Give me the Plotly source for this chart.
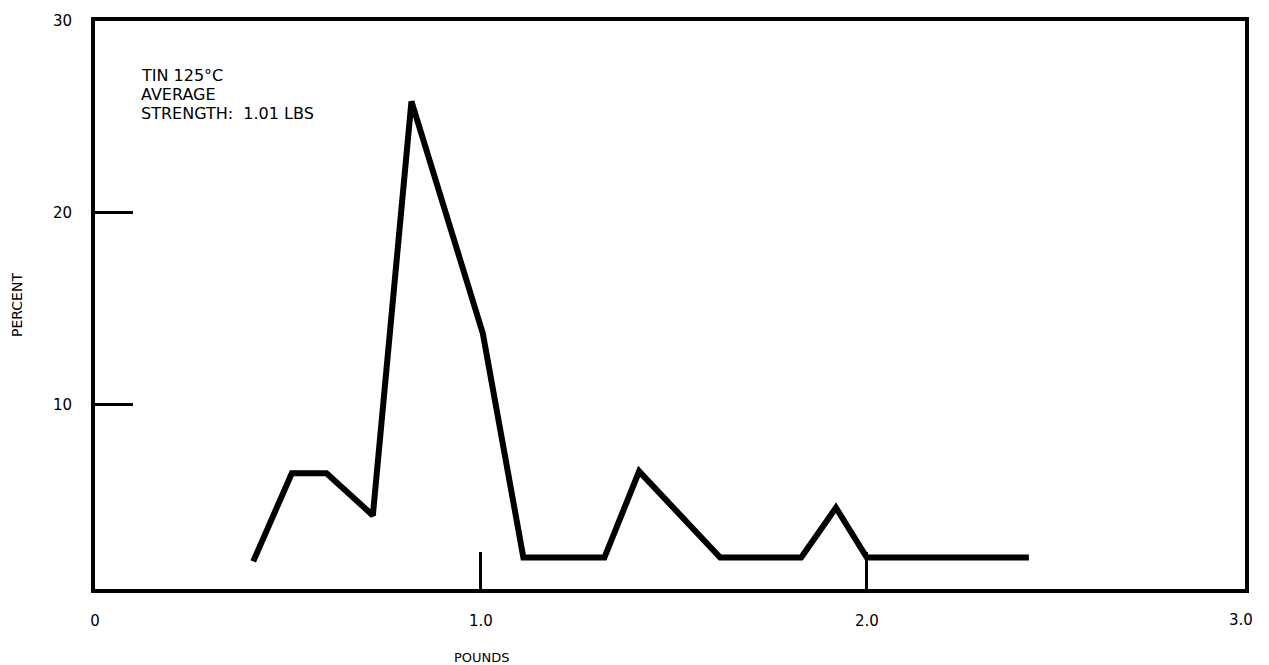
import plotly.graph_objects as go

# Strength distribution, tin at 125 C
pounds = [0.41, 0.51, 0.60, 0.72, 0.82, 1.005, 1.11, 1.32, 1.41, 1.62, 1.83, 1.92, 2.0, 2.42]
percent = [1.8, 6.4, 6.4, 4.2, 25.8, 13.7, 2.0, 2.0, 6.5, 2.0, 2.0, 4.6, 2.0, 2.0]

x_tickvals = [0, 1, 2]
x_ticktext = ["0", "1.0", "2.0"]
x_last_label = "3.0"
y_tickvals = [10, 20, 30]
y_ticktext = ["10", "20", "30"]

note_lines = ["TIN 125°C", "AVERAGE", "STRENGTH:  1.01 LBS"]
note_shifts = [-54, -73, -92]

FONT = "DejaVu Sans"

fig = go.Figure()
fig.add_trace(go.Scatter(
    x=pounds, y=percent, mode="lines",
    line=dict(color="black", width=6),
    hoverinfo="skip", showlegend=False,
))

axis_common = dict(
    showline=True, linecolor="black", linewidth=4, mirror=True,
    showgrid=False, zeroline=False,
    ticks="inside", tickcolor="black", tickwidth=3,
    tickfont=dict(family=FONT, size=15, color="black"),
)

fig.update_xaxes(
    range=[0, 2.98], tickvals=x_tickvals, ticktext=x_ticktext,
    ticklen=37, ticklabelstandoff=15, **axis_common,
)
fig.update_yaxes(
    range=[0.36, 30], tickvals=y_tickvals, ticktext=y_ticktext,
    ticklen=38, ticklabelstandoff=16, **axis_common,
)

annotations = [
    dict(text=x_last_label, xref="paper", yref="paper", x=0.9965, y=0,
         yshift=-31, xanchor="center", yanchor="middle", showarrow=False,
         font=dict(family=FONT, size=15, color="black")),
    dict(text="POUNDS", xref="paper", yref="paper", x=0.3365, y=0,
         yshift=-68, xanchor="center", yanchor="middle", showarrow=False,
         font=dict(family=FONT, size=13, color="black")),
    dict(text="PERCENT", xref="paper", yref="paper", x=0, y=0.5,
         xshift=-78, textangle=-90, xanchor="center", yanchor="middle",
         showarrow=False, font=dict(family=FONT, size=14, color="black")),
]
for line, shift in zip(note_lines, note_shifts):
    annotations.append(dict(
        text=line, xref="paper", yref="paper", x=0.039, y=1, yshift=shift,
        xanchor="left", yanchor="middle", align="left",
        borderpad=0, showarrow=False,
        font=dict(family=FONT, size=16, color="black"),
    ))

fig.update_layout(
    width=1269, height=665,
    margin=dict(l=95, r=24, t=18, b=76),
    paper_bgcolor="white", plot_bgcolor="white",
    annotations=annotations,
)

fig.write_html("out.html")
